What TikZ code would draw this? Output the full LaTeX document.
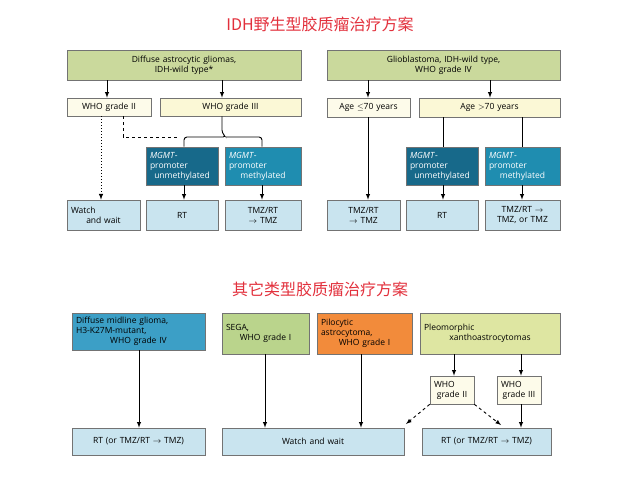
\documentclass[tikz,border=0pt]{standalone}
\usepackage{fontspec}
\setmainfont{Open Sans}
\newfontfamily\cjk{Noto Sans CJK SC}
\usetikzlibrary{arrows,calc}
\definecolor{olive}{HTML}{CAD99C}
\definecolor{cream}{HTML}{FDFBEA}
\definecolor{paleyel}{HTML}{FBF8D6}
\definecolor{darkteal}{HTML}{17698A}
\definecolor{teal}{HTML}{1F8DB0}
\definecolor{lightblue}{HTML}{C9E4EF}
\definecolor{midblue}{HTML}{3C9FC6}
\definecolor{sega}{HTML}{BAD48C}
\definecolor{orng}{HTML}{F28B3B}
\definecolor{yelgrn}{HTML}{DEE6A2}
\definecolor{titlered}{HTML}{E2303C}
\tikzset{
  box/.style={draw=black!55, line width=0.6pt, inner sep=1pt, font=\fontsize{8.5}{10}\selectfont, align=center},
  arr/.style={-latex, line width=0.9pt},
  dotarr/.style={-latex, line width=1pt, dotted},
  dasharr/.style={-latex, line width=0.9pt, dashed},
}
\newcommand{\bx}[7]{% name, x1, y1, x2, y2, fill, text
  \node[box, fill=#6, minimum width={#4-#2}, minimum height={#5-#3}, text width={#4-#2-8}] (#1) at ({(#2+#4)/2},{(#3+#5)/2}) {#7};}
\begin{document}
\begin{tikzpicture}[x=1pt,y=-1pt]
\useasboundingbox (0,0) rectangle (640,480);
%\draw[help lines] (0,0) grid[step=20] (640,480);

% titles
\node[text=titlered, font=\cjk\fontsize{16}{18}\selectfont] (t1) at (320,24) {IDH野生型胶质瘤治疗方案};
\node[text=titlered, font=\cjk\fontsize{16}{18}\selectfont] (t2) at (320,289) {其它类型胶质瘤治疗方案};

% IDH wild type, left
\bx{dag}{67}{50}{301}{80}{olive}{Diffuse astrocytic gliomas,\\IDH-wild type*}
\bx{ga}{67}{98}{151}{116}{cream}{WHO grade II}
\bx{gb}{160}{98}{301}{116}{paleyel}{WHO grade III}
\bx{ua}{146}{147}{218}{185}{darkteal}{\color{white}\raggedright\textit{MGMT}-\\promoter\\unmethylated}
\bx{ma}{225}{147}{301}{185}{teal}{\color{white}\raggedright\textit{MGMT}-\\promoter\\methylated}
\bx{wa}{67}{200}{140}{230}{lightblue}{\raggedright Watch\\and wait}
\bx{ra}{146}{200}{218}{230}{lightblue}{RT}
\bx{ta}{225}{200}{301}{230}{lightblue}{TMZ/RT\\$\rightarrow$ TMZ}

% glioblastoma, right
\bx{gbm}{327}{50}{560}{80}{olive}{Glioblastoma, IDH-wild type,\\WHO grade IV}
\bx{ya}{327}{98}{410}{117}{cream}{Age $\leq$70 years}
\bx{oa}{419}{98}{560}{117}{paleyel}{Age $>$70 years}
\bx{ub}{406}{147}{478}{185}{darkteal}{\color{white}\raggedright\textit{MGMT}-\\promoter\\unmethylated}
\bx{mb}{485}{147}{560}{185}{teal}{\color{white}\raggedright\textit{MGMT}-\\promoter\\methylated}
\bx{tb}{327}{200}{400}{230}{lightblue}{TMZ/RT\\$\rightarrow$ TMZ}
\bx{rb}{406}{200}{478}{230}{lightblue}{RT}
\bx{tc}{485}{200}{560}{230}{lightblue}{TMZ/RT $\rightarrow$\\TMZ, or TMZ}

% other types
\bx{dmg}{72}{313}{205}{350}{midblue}{\raggedright Diffuse midline glioma,\\H3-K27M-mutant,\\WHO grade IV}
\bx{sega}{222}{313}{309}{354}{sega}{\raggedright SEGA,\\WHO grade I}
\bx{pa}{317}{313}{412}{354}{orng}{\raggedright Pilocytic\\astrocytoma,\\WHO grade I}
\bx{px}{420}{313}{560}{354}{yelgrn}{\raggedright Pleomorphic\\xanthoastrocytomas}
\bx{pa2}{430}{376}{474}{404}{cream}{\raggedright WHO\\grade II}
\bx{pa3}{497}{376}{541}{404}{cream}{\raggedright WHO\\grade III}
\bx{rc}{72}{428}{205}{455}{lightblue}{RT (or TMZ/RT $\rightarrow$ TMZ)}
\bx{wb}{222}{428}{404}{455}{lightblue}{Watch and wait}
\bx{rd}{422}{428}{551}{455}{lightblue}{RT (or TMZ/RT $\rightarrow$ TMZ)}

% connectors, top left
\draw[arr] (dag.south -| 107,0) -- (ga.north -| 107,0);
\draw[arr] (dag.south -| 222,0) -- (gb.north -| 222,0);
\draw[dotarr] (ga.south -| 101,0) -- (wa.north -| 101,0);
\draw[dashed, line width=0.9pt] (ga.south -| 123,0) |- (180,137);
\draw[line width=0.9pt, rounded corners=3pt] (gb.south -| 222,0) -- (222,133) -- (226,137) -| (ua.north -| 184,0);
\draw[line width=0.9pt, rounded corners=3pt] (226,137) -| (ma.north -| 262,0);
\draw[arr] (ua.south -| 184,0) -- (ra.north -| 184,0);
\draw[arr] (ma.south -| 262,0) -- (ta.north -| 262,0);

% connectors, top right
\draw[arr] (gbm.south -| 368,0) -- (ya.north -| 368,0);
\draw[arr] (gbm.south -| 490,0) -- (oa.north -| 490,0);
\draw[arr] (ya.south -| 368,0) -- (tb.north -| 368,0);
\draw[line width=0.9pt] (oa.south -| 443,0) -- (ub.north -| 443,0);
\draw[line width=0.9pt] (oa.south -| 522,0) -- (mb.north -| 522,0);
\draw[arr] (ub.south -| 443,0) -- (rb.north -| 443,0);
\draw[arr] (mb.south -| 522,0) -- (tc.north -| 522,0);

% connectors, bottom
\draw[arr] (dmg.south -| 139,0) -- (rc.north -| 139,0);
\draw[arr] (sega.south -| 265,0) -- (wb.north -| 265,0);
\draw[arr] (pa.south -| 361,0) -- (wb.north -| 361,0);
\draw[arr] (px.south -| 454,0) -- (pa2.north -| 454,0);
\draw[arr] (px.south -| 521,0) -- (pa3.north -| 521,0);
\draw[arr] (pa3.south -| 521,0) -- (rd.north -| 521,0);
\draw[dasharr] (pa2.south west) -- (406,424);
\draw[dasharr] (pa2.south east) -- (501,425);
\end{tikzpicture}
\end{document}
